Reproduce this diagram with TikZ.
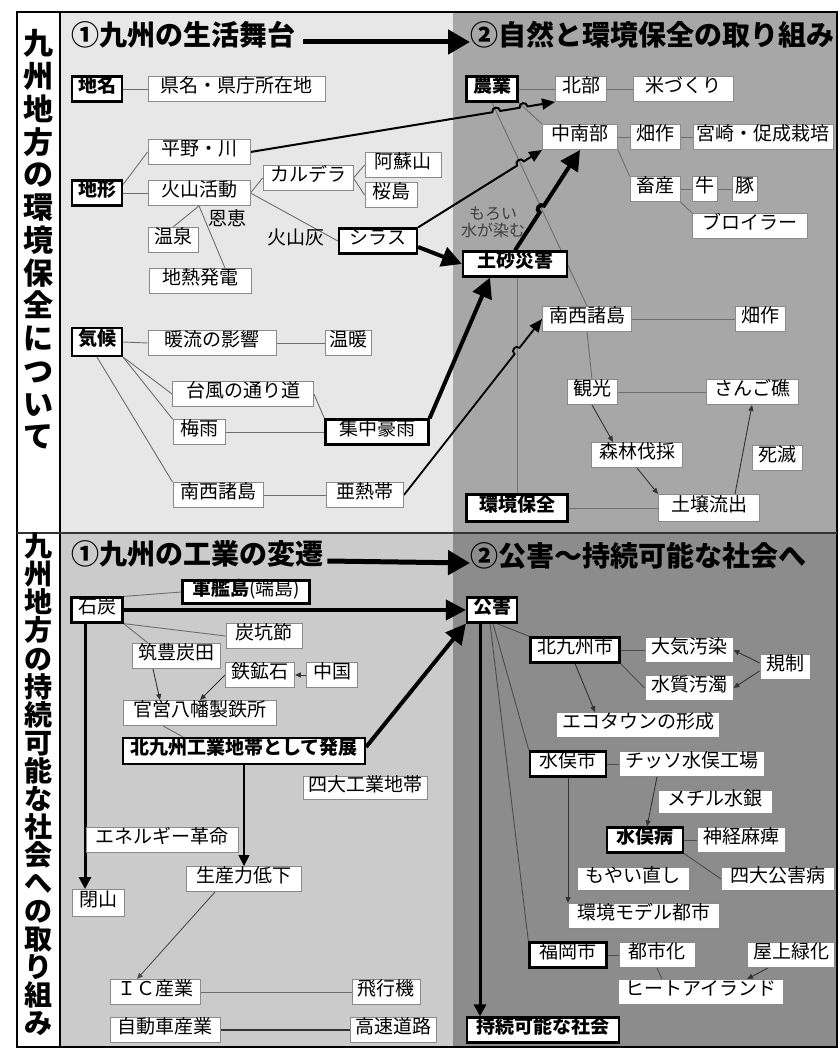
\documentclass[tikz,border=0pt]{standalone}
\usepackage{fontspec}
\setmainfont{Noto Sans CJK JP}
\usetikzlibrary{arrows.meta,calc}
\pgfdeclarelayer{back}
\pgfdeclarelayer{mid}
\pgfsetlayers{back,mid,main}
\definecolor{ptl}{HTML}{E7E7E7}
\definecolor{ptr}{HTML}{A7A7A7}
\definecolor{pbl}{HTML}{CBCBCB}
\definecolor{pbr}{HTML}{8C8C8C}
\definecolor{bxg}{HTML}{8A8A8A}
\definecolor{lng}{HTML}{6E6E6E}
\newcommand\fsn{\fontsize{19pt}{21pt}\selectfont}
\newcommand\mkhop[5]{%
  \coordinate (#1) at (intersection of #2--#3 and #4--#5);
  \coordinate (#1a) at ($(#1)!4pt!(#2)$);
  \coordinate (#1b) at ($(#1)!4pt!(#3)$);
  \coordinate (#1c) at ($(#1a)!5.3pt!90:(#1)$);
  \coordinate (#1d) at ($(#1b)!5.3pt!-90:(#1)$);}
\tikzset{
  bx/.style={draw=bxg, line width=0.9pt, fill=white, minimum height=25pt, inner sep=0pt, text height=0.86em, text depth=0.1em, font=\fsn},
  bb/.style={bx, draw=black, line width=2.2pt, font=\fsn\bfseries},
  bt/.style={bx, draw=black, line width=2.2pt},
  ln/.style={draw=lng, line width=0.9pt},
  sa/.style={draw=black!80, line width=0.9pt, -{Triangle[length=6pt,width=5pt]}},
  bigarr/.style={draw=black, line width=4pt, -{Triangle[length=20pt,width=20pt]}},
  medarr/.style={draw=black, line width=2pt, -{Triangle[length=13pt,width=11pt]}},
  vertarr/.style={draw=black, line width=3pt, -{Triangle[length=12pt,width=12pt]}},
  titlearr/.style={draw=black, line width=5pt, -{Triangle[length=22pt,width=24pt]}},
  ttl/.style={inner sep=0pt, anchor=west, font=\fontsize{28pt}{30pt}\selectfont\bfseries, text height=0.86em, text depth=0.1em},
  lbl/.style={inner sep=0pt, font=\fsn, text height=0.86em, text depth=0.1em},
  vt/.style={inner sep=0pt, text height=0.86em, text depth=0.1em},
}
\begin{document}
\begin{tikzpicture}[x=1pt,y=-1pt]
\useasboundingbox (0,0) rectangle (838,1048);
% panels
\begin{pgfonlayer}{back}
\fill[white] (0,0) rectangle (838,1048);
\fill[ptl] (60,12) rectangle (453,533);
\fill[ptr] (453,12) rectangle (838,533);
\fill[pbl] (60,533) rectangle (453,1048);
\fill[pbr] (453,533) rectangle (838,1048);
\end{pgfonlayer}
\draw[line width=1.5pt] (17,12) rectangle (837,1047);
\draw[line width=1.2pt] (60,12) -- (60,1047);
\draw[line width=1.8pt, draw=black!80] (17,533) -- (837,533);

% vertical titles
\foreach \c [count=\i] in {九,州,地,方,の,環,境,保,全,に,つ,い,て}
  \node[vt, font=\fontsize{30pt}{30pt}\selectfont\bfseries] (va\i) at (38,{51+32.75*(\i-1)}) {\c};
\foreach \c [count=\i] in {九,州,地,方,の,持,続,可,能,な,社,会,へ,の,取,り,組,み}
  \node[vt, font=\fontsize{28pt}{28pt}\selectfont\bfseries] (vb\i) at (38,{553+28.06*(\i-1)}) {\c};

% titles
\node[ttl] (t1) at (71,42) {①九州の生活舞台};
\node[ttl] (t2) at (470,42) {②自然と環境保全の取り組み};
\node[ttl] (t3) at (71,561) {①九州の工業の変遷};
\node[ttl] (t4) at (470,563) {②公害～持続可能な社会へ};

% ---- top-left nodes
\node[bb, minimum width=50] (chimei) at (97,89) {地名};
\node[bx, minimum width=177] (kenmei) at (236.5,89) {県名・県庁所在地};
\node[bx, minimum width=102] (heiya) at (199,152) {平野・川};
\node[bb, minimum width=50] (chikei) at (97,193) {地形};
\node[bx, minimum width=102] (kazan) at (199,193) {火山活動};
\node[bx, minimum width=90] (caldera) at (308,178) {カルデラ};
\node[bx, minimum width=76] (aso) at (403,165) {阿蘇山};
\node[bx, minimum width=52] (sakura) at (391,195) {桜島};
\node[lbl] (onkei) at (227,222) {恩恵};
\node[bx, minimum width=50] (onsen) at (173,240) {温泉};
\node[lbl] (kazanbai) at (296,241) {火山灰};
\node[bt, minimum width=78] (shirasu) at (378,241) {シラス};
\node[bx, minimum width=102] (chinetsu) at (200,281) {地熱発電};
\node[bb, minimum width=50, minimum height=28] (kiko) at (97,342) {気候};
\node[bx, minimum width=128] (danryu) at (212,343) {暖流の影響};
\node[bx, minimum width=46] (ondan) at (348,343) {温暖};
\node[bx, minimum width=141] (taifu) at (243,394) {台風の通り道};
\node[bx, minimum width=52] (tsuyu) at (199,432) {梅雨};
\node[bt, minimum width=103] (shuchu) at (377,432) {集中豪雨};
\node[bx, minimum width=90] (nansei1) at (218,495) {南西諸島};
\node[bx, minimum width=77] (anettai) at (365,495) {亜熱帯};

% ---- top-right nodes
\node[bb, minimum width=51] (nogyo) at (492,89) {農業};
\node[bx, minimum width=51] (hokubu) at (581,89) {北部};
\node[bx, minimum width=100] (kome) at (683,89) {米づくり};
\node[bx, minimum width=75] (chunan) at (580,137) {中南部};
\node[bx, minimum width=50] (hatasaku1) at (655,137) {畑作};
\node[bx, minimum width=140] (miyazaki) at (763,137) {宮崎・促成栽培};
\node[bx, minimum width=50] (chikusan) at (655,189) {畜産};
\node[bx, minimum width=25] (ushi) at (705,189) {牛};
\node[bx, minimum width=25] (buta) at (745,189) {豚};
\node[bx, minimum width=115] (broiler) at (750,226) {ブロイラー};
\node[inner sep=0pt, align=center, text=black!75, font=\fontsize{16pt}{17pt}\selectfont] (moroi) at (493,222) {もろい\\水が染む};
\node[bb, minimum width=104] (dosha) at (515,264) {土砂災害};
\node[bx, minimum width=89] (nansei2) at (587,319) {南西諸島};
\node[bx, minimum width=50] (hatasaku2) at (760,319) {畑作};
\node[bx, minimum width=50] (kanko) at (592,392) {観光};
\node[bx, minimum width=92] (sango) at (752,392) {さんご礁};
\node[bx, minimum width=91] (shinrin) at (637,455) {森林伐採};
\node[bx, minimum width=50] (shimetsu) at (777,458) {死滅};
\node[bb, minimum width=101, minimum height=27] (hozen) at (517,508) {環境保全};
\node[bx, minimum width=101, minimum height=27] (dojo) at (709,508) {土壌流出};

% ---- bottom-left nodes
\node[bb, minimum width=127, minimum height=23] (gunkan) at (246,592) {軍艦島{\mdseries(端島)}};
\node[bt, minimum width=51] (sekitan) at (97,610) {石炭};
\node[bx, minimum width=76] (tanko) at (264,636) {炭坑節};
\node[bx, minimum width=88] (chikuho) at (176,656) {筑豊炭田};
\node[bx, minimum width=69] (tekko) at (260,675) {鉄鉱石};
\node[bx, minimum width=51] (chugoku) at (332,675) {中国};
\node[bx, minimum width=153] (yawata) at (200,713) {官営八幡製鉄所};
\node[bb, minimum width=242, minimum height=26] (kitakyu) at (244,751) {北九州工業地帯として発展};
\node[bx, minimum width=124, minimum height=23] (yondai) at (365,788) {四大工業地帯};
\node[bx, minimum width=152] (energy) at (162,840) {エネルギー革命};
\node[bx, minimum width=115] (seisan) at (244,879) {生産力低下};
\node[bx, minimum width=52, minimum height=27] (heizan) at (98,903) {閉山};
\node[bx, minimum width=90] (ic) at (155,992) {ＩＣ産業};
\node[bx, minimum width=68] (hikoki) at (386,992) {飛行機};
\node[bx, minimum width=110] (jidosha) at (165,1030) {自動車産業};
\node[bx, minimum width=86] (kosoku) at (393,1030) {高速道路};

% ---- bottom-right nodes
\node[bb, minimum width=50] (kogai) at (492,610) {公害};
\node[bt, minimum width=89] (kitakyushi) at (575,650) {北九州市};
\node[bx, minimum width=88] (taiki) at (689,650) {大気汚染};
\node[bx, minimum width=88] (suishitsu) at (689,688) {水質汚濁};
\node[bx, minimum width=50] (kisei) at (785,667) {規制};
\node[bx, minimum width=163] (eco) at (638,725) {エコタウンの形成};
\node[bt, minimum width=76] (minamatashi) at (568,764) {水俣市};
\node[bx, minimum width=145] (chisso) at (692,764) {チッソ水俣工場};
\node[bx, minimum width=114, minimum height=23] (methyl) at (715,802) {メチル水銀};
\node[bb, minimum width=76] (byo) at (645,840) {水俣病};
\node[bx, minimum width=88] (shinkei) at (741,840) {神経麻痺};
\node[bx, minimum width=113, minimum height=23] (yondaik) at (778,879) {四大公害病};
\node[bx, minimum width=112, minimum height=23] (moyai) at (633,879) {もやい直し};
\node[bx, minimum width=151] (model) at (644,916) {環境モデル都市};
\node[bt, minimum width=77] (fukuoka) at (568,955) {福岡市};
\node[bx, minimum width=76] (toshika) at (657,955) {都市化};
\node[bx, minimum width=87] (okujo) at (791,955) {屋上緑化};
\node[bx, minimum width=165] (heat) at (701,992) {ヒートアイランド};
\node[bb, minimum width=152] (jizoku) at (543,1030) {持続可能な社会};

% ---- connectors
\begin{pgfonlayer}{mid}
% title arrows
\draw[titlearr] (t1.east) ++(8,0) coordinate (t1a) -- (t2.west);
\draw[titlearr] (t3.east) ++(4,0) coordinate (t3a) -- (t4.west);
% top-left thin lines
\draw[ln] (chimei.east) -- (kenmei.west);
\draw[ln] (chikei.18) -- (heiya.west);
\draw[ln] (chikei.east) -- (kazan.west);
\draw[ln] (kazan.east) -- (caldera.west);
\draw[ln] (caldera.east) -- (aso.west);
\draw[ln] (caldera.east) -- (sakura.west);
\draw[ln] (kazan.east) -- (shirasu.west);
\draw[ln] (kazan.south) -- (onsen.north);
\draw[ln] (kazan.south) -- ([xshift=25pt]chinetsu.north);
\draw[ln] (kiko.east) -- (danryu.west);
\draw[ln] (danryu.east) -- (ondan.west);
\draw[ln] (kiko.south east) -- (taifu.west);
\draw[ln] (kiko.south east) -- (tsuyu.north west);
\draw[ln] (kiko.south) -- (nansei1.north west);
\draw[ln] (taifu.east) -- (shuchu.north west);
\draw[ln] (tsuyu.east) -- (shuchu.west);
\draw[ln] (nansei1.east) -- (anettai.west);
% top-right thin lines
\coordinate (nn1) at (nogyo.south);
\coordinate (nn2) at (nansei2.north);
\coordinate (nc1) at (nogyo.south east);
\coordinate (nc2) at (chunan.north west);
\coordinate (hz1) at (hozen.north);
\coordinate (hz2) at (hozen.north |- dosha.south);
\draw[ln] (nn1) -- (nn2);
\draw[ln] (nc1) -- (nc2);
\draw[ln] (hz1) -- (hz2);
\draw[ln] (nogyo.east) -- (hokubu.west);
\draw[ln] (hokubu.east) -- (kome.west);
\draw[ln] (chunan.east) -- (hatasaku1.west);
\draw[ln] (hatasaku1.east) -- (miyazaki.west);
\draw[ln] (chunan.south east) -- (chikusan.north west);
\draw[ln] (chikusan.east) -- (ushi.west);
\draw[ln] (ushi.east) -- (buta.west);
\draw[ln] (chikusan.south east) -- (broiler.north west);
\draw[ln] (nansei2.east) -- (hatasaku2.west);
\draw[ln] (nansei2.south) -- (kanko.north);
\draw[ln] (kanko.east) -- (sango.west);
\draw[sa] (kanko.south) -- ([xshift=-24pt]shinrin.north);
\draw[sa] (shinrin.south) -- (dojo.north west);
\draw[sa] ([xshift=26pt]dojo.north) -- (sango.south);
\draw[ln] (hozen.east) -- (dojo.west);
% hops and crossing arrows
\coordinate (p1s) at (heiya.east);
\coordinate (p1e) at (hokubu.south west);
\mkhop{ha}{p1s}{p1e}{nn1}{nn2}
\mkhop{hb}{p1s}{p1e}{nc1}{nc2}
\draw[medarr] (p1s) -- (haa) .. controls (hac) and (had) .. (hab) -- (hba) .. controls (hbc) and (hbd) .. (hbb) -- (p1e);
\coordinate (p2s) at (shirasu.north east);
\coordinate (p2e) at (chunan.south west);
\mkhop{hc}{p2s}{p2e}{nn1}{nn2}
\draw[medarr] (p2s) -- (hca) .. controls (hcc) and (hcd) .. (hcb) -- (p2e);
\coordinate (p3s) at (dosha.north);
\coordinate (p3e) at (chunan.south);
\mkhop{hd}{p3s}{p3e}{nn1}{nn2}
\draw[bigarr] (p3s) -- (hda) .. controls (hdc) and (hdd) .. (hdb) -- (p3e);
\coordinate (p4s) at (anettai.east);
\coordinate (p4e) at (nansei2.west);
\mkhop{he}{p4s}{p4e}{hz1}{hz2}
\draw[medarr, line width=1.8pt] (p4s) -- (hea) .. controls (hec) and (hed) .. (heb) -- (p4e);
\draw[bigarr] ([yshift=-6pt]shirasu.east) -- (dosha.west);
\draw[bigarr] (shuchu.north east) -- ([xshift=-25pt]dosha.south);
% bottom-left
\draw[ln] (sekitan.north east) -- (gunkan.west);
\draw[bigarr] (sekitan.east) -- (kogai.west);
\coordinate (sk) at ([xshift=-12pt]sekitan.south);
\draw[vertarr] (sk) -- (sk |- heizan.north);
\draw[ln] (sekitan.south east) -- (tanko.west);
\draw[ln] (sekitan.south east) -- ([xshift=-28pt]chikuho.north);
\draw[sa] ([xshift=-23pt]chikuho.south) -- ([xshift=-40pt]yawata.north);
\draw[sa] (tekko.west) -- (yawata.north);
\draw[sa] (chugoku.west) -- (tekko.east);
\draw[ln] ([xshift=-37pt]yawata.south) -- ([xshift=-61pt]kitakyu.north);
\draw[bigarr] ([yshift=4pt]kitakyu.east) -- (kogai.south west);
\draw[draw=black, line width=1.6pt, -{Triangle[length=11pt,width=11pt]}] (kitakyu.south) -- (seisan.north);
\draw[sa, draw=black!70] ([xshift=-29pt]seisan.south) -- ([xshift=-18pt]ic.north);
\draw[ln] (ic.east) -- (hikoki.west);
\draw[ln, draw=black!80, line width=1.2pt] (jidosha.east) -- (kosoku.west);
% bottom-right
\coordinate (kg) at ([xshift=-12pt]kogai.south);
\draw[vertarr] (kg) -- (kg |- jizoku.north);
\draw[ln, draw=black!70] ([xshift=5pt]kogai.south) -- (kitakyushi.north west);
\draw[ln, draw=black!70] ([xshift=1pt]kogai.south) -- (minamatashi.north west);
\draw[ln, draw=black!70] ([xshift=-2pt]kogai.south) -- (fukuoka.north west);
\draw[ln, draw=black!70] (kitakyushi.east) -- (taiki.west);
\draw[ln, draw=black!70] (kitakyushi.south east) -- (suishitsu.west);
\draw[sa] ([yshift=4pt]kisei.west) -- (taiki.east);
\draw[sa] ([yshift=-4pt]kisei.west) -- (suishitsu.east);
\draw[sa] (kitakyushi.south) -- ([xshift=-43pt]eco.north);
\draw[ln, draw=black!70] (minamatashi.east) -- (chisso.west);
\draw[sa] ([xshift=-35pt]chisso.south) -- ([xshift=2pt]byo.north);
\draw[ln, draw=black!70] (byo.east) -- (shinkei.west);
\draw[ln, draw=black!70] (byo.south east) -- (yondaik.west);
\draw[sa] (minamatashi.south) -- (minamatashi.south |- model.north);
\draw[ln, draw=black!70] (fukuoka.east) -- (toshika.west);
\draw[ln, draw=black!70] (toshika.south) -- ([xshift=-39pt]heat.north);
\draw[sa] ([xshift=-23pt]okujo.south) -- ([xshift=46pt]heat.north);
\end{pgfonlayer}
\end{tikzpicture}
\end{document}
